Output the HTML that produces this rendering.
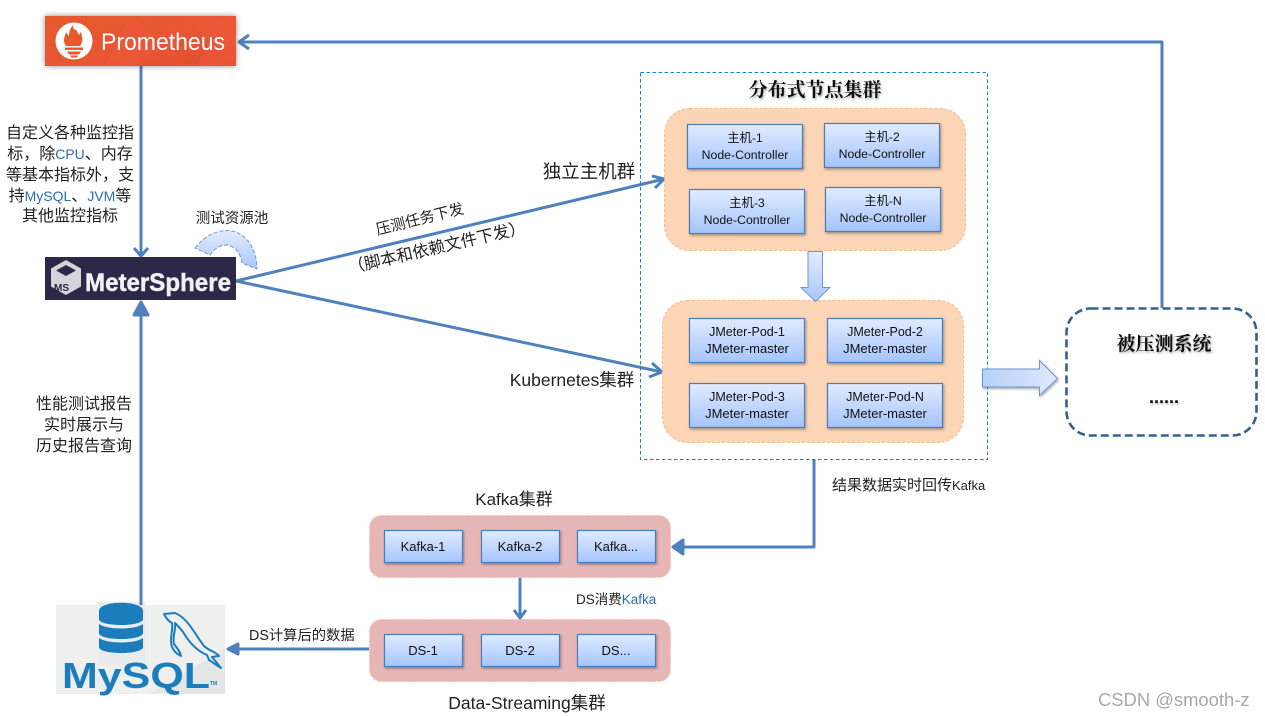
<!DOCTYPE html>
<html lang="zh">
<head>
<meta charset="utf-8">
<title>MeterSphere 架构图</title>
<style>
html,body{margin:0;padding:0;background:#fff;width:1265px;height:716px;overflow:hidden}
svg{display:block}
text{font-family:"Liberation Sans","Noto Sans CJK SC",sans-serif;fill:#222}
.n{font-size:12.3px;text-anchor:middle;fill:#111}
.p{font-size:12.5px;text-anchor:middle;fill:#111}
.m{font-size:13px;text-anchor:middle;fill:#111}
.k{font-size:13px;text-anchor:middle;fill:#111}
.l{font-size:16px;text-anchor:middle;fill:#222}
.s{fill:#222}
.b{fill:url(#bx);stroke:#4a7ebb;stroke-width:1.2;filter:url(#sh)}
.c{stroke:#4f81bd;stroke-width:3;fill:none}
.blue{fill:#2a6db0}
</style>
</head>
<body>
<svg width="1265" height="716" viewBox="0 0 1265 716" xmlns="http://www.w3.org/2000/svg">
<defs>
<linearGradient id="bx" x1="0" y1="0" x2="0" y2="1"><stop offset="0" stop-color="#e1ebff"/><stop offset="1" stop-color="#a3c4fb"/></linearGradient>
<linearGradient id="bx2" x1="0" y1="0" x2="0" y2="1"><stop offset="0" stop-color="#e3ecfd"/><stop offset="1" stop-color="#a8c6fa"/></linearGradient>
<linearGradient id="bxh" x1="0" y1="0" x2="1" y2="0"><stop offset="0" stop-color="#b6d0fa"/><stop offset="1" stop-color="#dfe9fd"/></linearGradient>
<linearGradient id="promo" x1="0" y1="0" x2="1" y2="1"><stop offset="0" stop-color="#e55a2b"/><stop offset=".6" stop-color="#e85534"/><stop offset="1" stop-color="#e04d2e"/></linearGradient>
<filter id="sh" x="-10%" y="-10%" width="125%" height="130%"><feDropShadow dx="1" dy="1.5" stdDeviation="1.2" flood-color="#000" flood-opacity=".35"/></filter>
<filter id="sh2" x="-15%" y="-30%" width="130%" height="160%"><feDropShadow dx="0" dy="0" stdDeviation="3" flood-color="#000" flood-opacity=".45"/></filter>
<filter id="ts" x="-10%" y="-30%" width="120%" height="170%"><feDropShadow dx="1" dy="1.5" stdDeviation="1" flood-color="#000" flood-opacity=".35"/></filter>
<filter id="bl" x="-5%" y="-5%" width="110%" height="110%"><feGaussianBlur stdDeviation=".35"/></filter>
</defs>
<rect width="1265" height="716" fill="#fff"/>

<!-- MySQL logo -->
<g filter="url(#bl)">
<rect x="56" y="605" width="169" height="89" fill="#eef0f0"/>
<path d="M150 694 L225 648 V694Z" fill="#e4e6e6"/>
<rect x="98" y="602" width="47" height="63" fill="#e9ebec"/>
<g fill="#1b7dbd">
<path d="M99 611c0-11 44-11 44 0v8c0 8-44 8-44 0z"/>
<path d="M99 624c8 6 36 6 44 0v9c0 8-44 8-44 0z"/>
<path d="M99 638c8 6 36 6 44 0v9c0 8-44 8-44 0z"/>
</g>
<path d="M164 614L175 613C188 618 196 636 204 646C209 651 215 651 219 656L212 657L221 668L209 660L207 655C197 651 189 642 183 632C180 628 177 625 175 623C176 630 172 638 174 644C177 648 180 651 181 656C175 653 171 648 171 641C171 634 173 628 172 623C168 621 166 618 164 614Z" fill="none" stroke="#1b7dbd" stroke-width="2" stroke-linejoin="round"/>
<text x="62" y="688" font-size="36" font-weight="bold" textLength="148" lengthAdjust="spacingAndGlyphs" style="fill:#1b7dbd">MySQL</text>
<text x="210" y="685" font-size="5" font-weight="bold" style="fill:#1b7dbd">TM</text>
</g>

<!-- connectors -->
<g class="c" stroke-linejoin="round">
<path d="M141 66V255"/><path d="M134 248l7 8 7-8"/>
<path d="M141 605V303"/><path d="M134 315l7-13 7 13z" fill="#4f81bd"/>
<path d="M236 281L664 179"/><path d="M652 176l12 3-9 9"/>
<path d="M236 281L662 372"/><path d="M652 363l10 9-13 5"/>
<path d="M1162 308V42H239"/><path d="M249 35l-10 7 10 7"/>
<path d="M814 459V547H673"/><path d="M683 540l-10 7 10 7z" fill="#4f81bd"/>
<path d="M520 577V618"/><path d="M514 610l6 8 6-8"/>
<path d="M369 649H228"/><path d="M238 644l-10 5 10 5z" fill="#4f81bd"/>
</g>

<!-- Prometheus -->
<g filter="url(#sh2)"><rect x="45" y="16" width="191" height="50" fill="url(#promo)"/></g>
<path d="M130 16l30 25-20 25H105z M180 16l30 25-14 25h40V16z" fill="#ef5a3a" opacity=".55"/>
<circle cx="74" cy="41" r="18.500" fill="#fff"/>
<path d="M66 46c-4-6-1-9 0-14 1 2 2 3 3 4 0-4 1-7 4-11 0 4 2 6 3 4 1 3 2 4 3 6 1-2 1-2 2-3 1 5 3 9-1 14z" fill="#e85a2c"/>
<rect x="65" y="47.500" width="18" height="2.500" fill="#e85a2c"/>
<path d="M67 51.500h14l-2 3h-10z" fill="#e85a2c"/><path d="M70 55.500h8l-1 2h-6z" fill="#e85a2c"/>
<text x="101" y="50" font-size="24" textLength="124" lengthAdjust="spacingAndGlyphs" style="fill:#fff">Prometheus</text>

<!-- MeterSphere -->
<rect x="45" y="257" width="191" height="43" fill="#2c2848"/>
<path d="M66 260l15 8.500v18l-15 8.500-15-8.500v-18z" fill="#d4d4da"/>
<path d="M66 265l10 5.500-10 5.500-10-5.500z" fill="#2c2848"/>
<text x="54" y="291" font-size="10" font-weight="bold" style="fill:#2c2848">MS</text>
<text x="85" y="291" font-size="25" font-weight="bold" textLength="146" lengthAdjust="spacingAndGlyphs" style="fill:#f1f1f4;stroke:#f1f1f4;stroke-width:.5">MeterSphere</text>

<!-- pool curved arrow -->
<path d="M195 248C206 234 220 229 232 231C247 234 257 250 257 269L242 263C241 254 235 246 227 245C220 245 214 249 210 255Z" fill="url(#bx2)" stroke="#6f97cc" stroke-width="1" stroke-dasharray="4 2"/>
<text x="232" y="223" class="s" text-anchor="middle" font-size="14.500">测试资源池</text>

<!-- left labels -->
<g class="l">
<text class="l" x="70" y="138">自定义各种监控指</text>
<text class="l" x="70" y="159">标，除<tspan class="blue" font-size="14">CPU</tspan>、内存</text>
<text class="l" x="70" y="180">等基本指标外，支</text>
<text class="l" x="70" y="201">持<tspan class="blue" font-size="14">MySQL</tspan>、<tspan class="blue" font-size="14">JVM</tspan>等</text>
<text class="l" x="70" y="221">其他监控指标</text>
<text class="l" x="84" y="409">性能测试报告</text>
<text class="l" x="84" y="430">实时展示与</text>
<text class="l" x="84" y="451">历史报告查询</text>
</g>

<text x="589" y="178" class="l" style="font-size:18.500px">独立主机群</text>
<text x="572" y="386" class="l" style="font-size:17.500px">Kubernetes集群</text>
<text transform="translate(421 224) rotate(-14)" class="s" text-anchor="middle" font-size="15">压测任务下发</text>
<text transform="translate(438 253) rotate(-13)" class="s" text-anchor="middle" font-size="16.500">（脚本和依赖文件下发）</text>

<!-- distributed cluster -->
<rect x="640.500" y="72.500" width="347" height="387" fill="none" stroke="#1a7fc4" stroke-width="1" stroke-dasharray="3.500 2.500"/>
<text x="815" y="96" text-anchor="middle" font-size="19" font-weight="bold" style="font-family:'Noto Serif CJK SC',serif;fill:#111" filter="url(#ts)">分布式节点集群</text>
<rect x="664.500" y="108.500" width="301" height="142" rx="25" fill="#fbd5b5" stroke="#f6bd8e" stroke-dasharray="3 2"/>
<rect x="662.500" y="300.500" width="301" height="142" rx="25" fill="#fbd5b5" stroke="#f6bd8e" stroke-dasharray="3 2"/>

<rect class="b" x="687.500" y="124.500" width="115" height="44"/>
<rect class="b" x="824.500" y="123.500" width="115" height="44"/>
<rect class="b" x="689.500" y="189.500" width="115" height="44"/>
<rect class="b" x="825.500" y="187.500" width="115" height="44"/>
<text class="n" x="745" y="142">主机-1</text><text class="n" x="745" y="159">Node-Controller</text>
<text class="n" x="882" y="141">主机-2</text><text class="n" x="882" y="158">Node-Controller</text>
<text class="n" x="747" y="207">主机-3</text><text class="n" x="747" y="224">Node-Controller</text>
<text class="n" x="883" y="205">主机-N</text><text class="n" x="883" y="222">Node-Controller</text>

<path d="M808 251.500H822.500V287.500H830L815.500 301.500L801 287.500H808Z" fill="url(#bx2)" stroke="#6f97cc"/>

<rect class="b" x="689.500" y="318.500" width="115" height="44"/>
<rect class="b" x="827.500" y="318.500" width="115" height="44"/>
<rect class="b" x="689.500" y="383.500" width="115" height="44"/>
<rect class="b" x="827.500" y="383.500" width="115" height="44"/>
<text class="p" x="747" y="336">JMeter-Pod-1</text><text class="m" x="747" y="353">JMeter-master</text>
<text class="p" x="885" y="336">JMeter-Pod-2</text><text class="m" x="885" y="353">JMeter-master</text>
<text class="p" x="747" y="401">JMeter-Pod-3</text><text class="m" x="747" y="418">JMeter-master</text>
<text class="p" x="885" y="401">JMeter-Pod-N</text><text class="m" x="885" y="418">JMeter-master</text>

<!-- big arrow -->
<path d="M982.500 369H1039.500V360.500L1057.500 378.500L1039.500 395.500V387H982.500Z" fill="url(#bxh)" stroke="#6f97cc" filter="url(#sh)"/>

<!-- target system -->
<rect x="1066.500" y="308.500" width="190" height="127" rx="24" fill="#fff" stroke="#35608f" stroke-width="2.600" stroke-dasharray="8 4"/>
<text x="1164" y="350" text-anchor="middle" font-size="19" font-weight="bold" style="font-family:'Noto Serif CJK SC',serif;fill:#111" filter="url(#ts)">被压测系统</text>
<text x="1164" y="403" text-anchor="middle" font-size="18" font-weight="bold" style="fill:#111" filter="url(#ts)">......</text>

<!-- Kafka & DS -->
<text x="514" y="505" class="l" style="font-size:17px">Kafka集群</text>
<rect x="369.500" y="515.500" width="301" height="62" rx="12" fill="#e6b6b6" stroke="#f0c8a8" stroke-dasharray="3 2"/>
<rect x="369.500" y="619.500" width="301" height="62" rx="12" fill="#e6b6b6" stroke="#f0c8a8" stroke-dasharray="3 2"/>
<rect class="b" x="384.500" y="530.500" width="78" height="32"/>
<rect class="b" x="481.500" y="530.500" width="78" height="32"/>
<rect class="b" x="577.500" y="530.500" width="78" height="32"/>
<rect class="b" x="384.500" y="634.500" width="78" height="32"/>
<rect class="b" x="481.500" y="634.500" width="78" height="32"/>
<rect class="b" x="577.500" y="634.500" width="78" height="32"/>
<text class="k" x="423" y="551">Kafka-1</text><text class="k" x="520" y="551">Kafka-2</text><text class="k" x="616" y="551">Kafka...</text>
<text class="k" x="423" y="655">DS-1</text><text class="k" x="520" y="655">DS-2</text><text class="k" x="616" y="655">DS...</text>
<text x="527" y="709" class="l" style="font-size:17.500px">Data-Streaming集群</text>

<text x="576" y="604" class="s" font-size="13.500">DS消费<tspan class="blue">Kafka</tspan></text>
<text x="832" y="490" class="s" font-size="15">结果数据实时回传<tspan font-size="13">Kafka</tspan></text>
<text x="249" y="640" class="s" font-size="14.300">DS计算后的数据</text>

<text x="1098" y="706" font-size="18.400" style="fill:#a8a8a8">CSDN @smooth-z</text>
</svg>
</body>
</html>
